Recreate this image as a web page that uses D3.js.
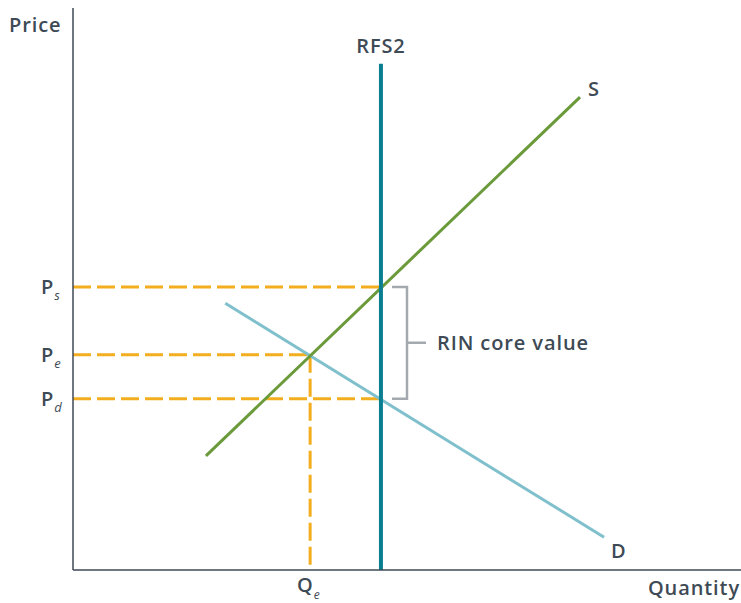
<!DOCTYPE html>
<html>
<head>
<meta charset="utf-8">
<script src="https://cdn.jsdelivr.net/npm/d3@7"></script>
<style>
  body { margin: 0; background: #fff; }
  text { font-family: "Open Sans", Lato, sans-serif; fill: #3e4a55; font-weight: 600; letter-spacing: 0.9px; }
</style>
</head>
<body>
<div id="chart"></div>
<script>
// Quantity / price units (0-100 on each axis)
const supply = [[19.9, 20.2], [75.9, 83.7]];
const demand = [[22.8, 47.2], [79.5, 5.8]];
const rfs2Q = 46.1;
const qe = 35.5;
const priceLevels = [
  {name: "P", sub: "s", value: 50.1, toQ: 46.1},
  {name: "P", sub: "e", value: 38.1, toQ: 35.5},
  {name: "P", sub: "d", value: 30.3, toQ: 46.1}
];
const rfs2Top = 89.6;

const width = 741, height = 603;
const margin = {top: 5, right: 0, bottom: 33, left: 73};

const svg = d3.select("#chart").append("svg")
    .attr("width", width)
    .attr("height", height);

const x = d3.scaleLinear().domain([0, 100]).range([margin.left, width - margin.right]);
const y = d3.scaleLinear().domain([0, 100]).range([height - margin.bottom, margin.top]);

const orange = "#f2ae1f";
const line = d3.line().x(d => x(d[0])).y(d => y(d[1]));

// Dashed guide lines
svg.selectAll(".guide")
    .data(priceLevels)
    .enter().append("line")
    .attr("x1", x(0)).attr("x2", d => x(d.toQ))
    .attr("y1", d => y(d.value)).attr("y2", d => y(d.value))
    .attr("stroke", orange)
    .attr("stroke-width", 3)
    .attr("stroke-dasharray", "18,6");

svg.append("line")
    .attr("x1", x(qe)).attr("x2", x(qe))
    .attr("y1", y(priceLevels[1].value)).attr("y2", y(0))
    .attr("stroke", orange)
    .attr("stroke-width", 3)
    .attr("stroke-dasharray", "18,6");

// Demand and supply
svg.append("path").datum(demand)
    .attr("d", line)
    .attr("fill", "none")
    .attr("stroke", "#7fc0cc")
    .attr("stroke-width", 3);

svg.append("path").datum(supply)
    .attr("d", line)
    .attr("fill", "none")
    .attr("stroke", "#6a9a3a")
    .attr("stroke-width", 3);

// RFS2 mandate
svg.append("line")
    .attr("x1", x(rfs2Q)).attr("x2", x(rfs2Q))
    .attr("y1", y(rfs2Top)).attr("y2", y(0))
    .attr("stroke", "#0b7f92")
    .attr("stroke-width", 4);

// Axes (plain lines, no ticks)
svg.append("line")
    .attr("x1", x(0)).attr("x2", x(0))
    .attr("y1", 8).attr("y2", y(0))
    .attr("stroke", "#3e4a55").attr("stroke-width", 1.5);
svg.append("line")
    .attr("x1", x(0)).attr("x2", width)
    .attr("y1", y(0)).attr("y2", y(0))
    .attr("stroke", "#3e4a55").attr("stroke-width", 1.5);

// Bracket for RIN value
const bx = 407, bl = 392;
const yTop = y(priceLevels[0].value), yBot = y(priceLevels[2].value);
const yMid = (yTop + yBot) / 2;
svg.append("path")
    .attr("d", `M${bl},${yTop}H${bx}V${yBot}H${bl}M${bx},${yMid}H${426}`)
    .attr("fill", "none")
    .attr("stroke", "#a3a9ae")
    .attr("stroke-width", 2.5);

svg.append("text")
    .attr("x", 437).attr("y", yMid + 7)
    .style("font-size", "20px")
    .text("RIN core value");

// Labels
svg.append("text").attr("x", 9).attr("y", 32).style("font-size", "20px").text("Price");
svg.append("text").attr("x", width - 1).attr("y", 595).attr("text-anchor", "end")
    .style("font-size", "20px").text("Quantity");
svg.append("text").attr("x", x(rfs2Q)).attr("y", 53).attr("text-anchor", "middle")
    .style("font-size", "20px").text("RFS2");
svg.append("text").attr("x", x(supply[1][0]) + 8).attr("y", 96)
    .style("font-size", "20px").text("S");
svg.append("text").attr("x", x(demand[1][0]) + 7).attr("y", 558)
    .style("font-size", "20px").text("D");

// Price level labels with subscripts
priceLevels.forEach(d => {
    const t = svg.append("text")
        .attr("x", 41).attr("y", y(d.value) + 7)
        .style("font-size", "20px");
    t.append("tspan").text(d.name);
    t.append("tspan").attr("dy", 6).style("font-size", "13px").style("font-style", "italic")
        .style("font-weight", 400).text(d.sub);
});

const qt = svg.append("text").attr("x", 297).attr("y", 592).style("font-size", "20px");
qt.append("tspan").text("Q");
qt.append("tspan").attr("dy", 7).style("font-size", "12px").style("font-style", "italic")
    .style("font-weight", 400).text("e");
</script>
</body>
</html>
